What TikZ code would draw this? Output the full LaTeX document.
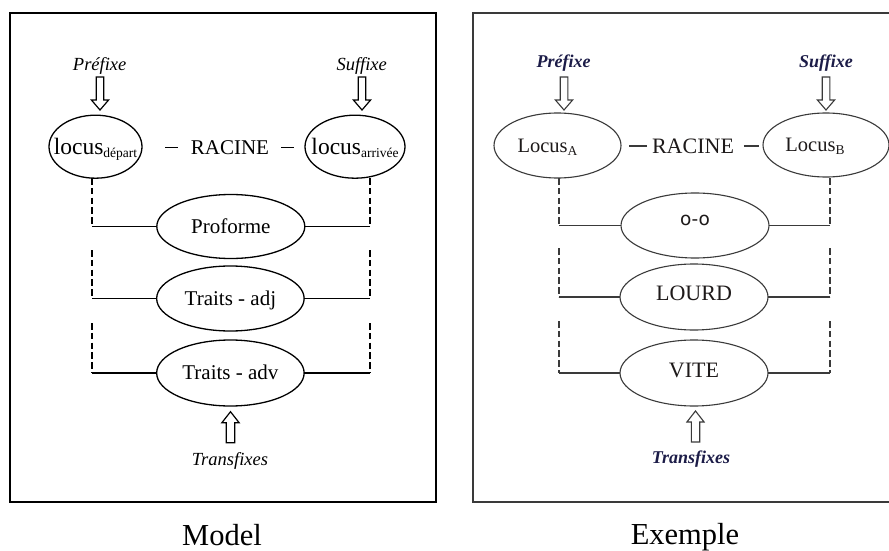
\documentclass[tikz,border=0pt]{standalone}
\usepackage{fontspec}
\setmainfont{Liberation Serif}
\newfontfamily\oofont{DejaVu Sans}
\usetikzlibrary{shapes.geometric}
\definecolor{navy}{HTML}{1C1C48}
\definecolor{exline}{HTML}{3A3A3A}
\definecolor{extext}{HTML}{1E1A1A}
\newcommand{\sub}[2]{\raisebox{-3pt}{\fontsize{#1}{#1}\selectfont #2}}
\begin{document}
\begin{tikzpicture}[x=1pt,y=-1pt,
  every node/.style={inner sep=0pt,outer sep=0pt},
  oval/.style={ellipse,draw,line width=1.3pt},
  exoval/.style={ellipse,draw=exline,line width=1.1pt},
  txt/.style={text height=13.9pt,text depth=0pt,font=\fontsize{21}{25}\selectfont},
  loctxt/.style={text height=15.5pt,text depth=0pt,font=\fontsize{23.5}{26}\selectfont},
  extxt/.style={text height=14.5pt,text depth=0pt,text=extext,font=\fontsize{22}{26}\selectfont},
  exloc/.style={text height=13.5pt,text depth=0pt,text=extext,font=\fontsize{20.5}{24}\selectfont},
  lbl/.style={text height=12.2pt,text depth=0pt,font=\fontsize{18.5}{22}\selectfont\itshape},
  exlbl/.style={text height=11.9pt,text depth=0pt,text=navy,font=\fontsize{18}{22}\selectfont\bfseries\itshape},
  captxt/.style={text height=20.2pt,text depth=0pt,font=\fontsize{30.5}{34}\selectfont},
  dashline/.style={line width=2pt,dash pattern=on 6.5pt off 3.3pt},
  solidline/.style={line width=1.7pt},
  exdash/.style={draw=exline,line width=1.9pt,dash pattern=on 6.5pt off 3.3pt},
  exsolid/.style={draw=exline,line width=1.5pt},
  arrowdown/.pic={\draw[pic actions] (-3.8,0) -- (3.8,0) -- (3.8,23) -- (8.6,23) -- (0,33) -- (-8.6,23) -- (-3.8,23) -- cycle;},
  arrowup/.pic={\draw[pic actions] (-4.2,0) -- (4.2,0) -- (4.2,-20) -- (8.6,-20) -- (0,-31) -- (-8.6,-20) -- (-4.2,-20) -- cycle;}
]
\clip (0,0) rectangle (889,551);
\fill[white] (0,0) rectangle (889,551);

% ===================== MODEL =====================
\draw[line width=2pt] (10,13.5) rectangle (436,502);

\node[lbl] (preM) at (99.7,64) {Préfixe};
\pic[draw,line width=1.2pt] at (100,77) {arrowdown};
\node[lbl] (sufM) at (361.7,64) {Suffixe};
\pic[draw,line width=1.2pt] at (362,77) {arrowdown};

\node[oval,minimum width=93,minimum height=63] (locD) at (95.5,146.7) {};
\node[loctxt] (tlocD) at (locD) {locus\sub{13.5}{départ}};
\node[oval,minimum width=100,minimum height=63] (locR) at (355,146.7) {};
\node[loctxt] (tlocR) at (locR) {locus\sub{13.5}{arrivée}};

\node[txt] (racM) at (230,147.5) {RACINE};
\draw[line width=1.8pt] ([xshift=-13pt]racM.west) -- ([xshift=-26pt]racM.west);
\draw[line width=1.8pt] ([xshift=12pt]racM.east) -- ([xshift=25pt]racM.east);

\node[oval,minimum width=148,minimum height=64] (proM) at (230.8,226.5) {};
\node[txt] (tproM) at (proM) {Proforme};
\node[oval,minimum width=147.5,minimum height=65] (adjM) at (230.4,298.5) {};
\node[txt] (tadjM) at (adjM) {Traits - adj};
\node[oval,minimum width=147.5,minimum height=66] (advM) at (230.4,373) {};
\node[txt] (tadvM) at (advM) {Traits - adv};

\coordinate (mL1a) at (92.3,178);   \coordinate (mL1b) at (92.3,226.5);
\coordinate (mR1a) at (370,178);    \coordinate (mR1b) at (370,226.5);
\coordinate (mL2a) at (92.3,250);   \coordinate (mL2b) at (92.3,298.5);
\coordinate (mR2a) at (370,250);    \coordinate (mR2b) at (370,298.5);
\coordinate (mL3a) at (92.3,323);   \coordinate (mL3b) at (92.3,373);
\coordinate (mR3a) at (370,323);    \coordinate (mR3b) at (370,373);
\draw[dashline] (mL1a) -- (mL1b); \draw[dashline] (mR1a) -- (mR1b);
\draw[dashline] (mL2a) -- (mL2b); \draw[dashline] (mR2a) -- (mR2b);
\draw[dashline] (mL3a) -- (mL3b); \draw[dashline] (mR3a) -- (mR3b);
\draw[solidline] (mL1b) -- (proM); \draw[solidline] (mR1b) -- (proM);
\draw[solidline] (mL2b) -- (adjM); \draw[solidline] (mR2b) -- (adjM);
\draw[solidline] (mL3b) -- (advM); \draw[solidline] (mR3b) -- (advM);

\pic[draw,line width=1.2pt] at (230.5,442.7) {arrowup};
\node[lbl] (trM) at (230,459) {Transfixes};

\node[captxt] (capM) at (222,535) {Model};

% ===================== EXEMPLE =====================
\draw[draw=exline,line width=2pt] (473,13) rectangle (900,502);

\node[exlbl] (preE) at (563.5,61.7) {Préfixe};
\pic[draw=exline,line width=1.1pt] at (564,77) {arrowdown};
\node[exlbl] (sufE) at (826,61.7) {Suffixe};
\pic[draw=exline,line width=1.1pt] at (826,77) {arrowdown};

\node[exoval,minimum width=127,minimum height=65] (locA) at (557.5,145.5) {};
\node[exloc] (tlocA) at ([xshift=-10pt]locA.center) {Locus\sub{13.5}{A}};
\node[exoval,minimum width=126,minimum height=64] (locB) at (826,145) {};
\node[exloc] (tlocB) at ([xshift=-11pt]locB.center) {Locus\sub{13.5}{B}};

\node[extxt] (racE) at (693,145.8) {RACINE};
\draw[exsolid,line width=1.6pt] ([xshift=-5pt]racE.west) -- ([xshift=-23pt]racE.west);
\draw[exsolid,line width=1.6pt] ([xshift=10pt]racE.east) -- ([xshift=25pt]racE.east);

\node[exoval,minimum width=148,minimum height=65] (oo) at (695,225.5) {};
\node[text=extext,text height=10pt,text depth=0pt,font=\fontsize{18.5}{22}\oofont] (too) at ([yshift=5pt]oo.center) {o-o};
\node[exoval,minimum width=148,minimum height=66] (lourd) at (694,297) {};
\node[extxt] (tlourd) at ([yshift=4pt]lourd.center) {LOURD};
\node[exoval,minimum width=148,minimum height=66] (vite) at (694,373) {};
\node[extxt] (tvite) at ([yshift=3pt]vite.center) {VITE};

\coordinate (eL1a) at (559,178);   \coordinate (eL1b) at (559,225.5);
\coordinate (eR1a) at (830,178);   \coordinate (eR1b) at (830,225.5);
\coordinate (eL2a) at (559,248);   \coordinate (eL2b) at (559,297);
\coordinate (eR2a) at (830,248);   \coordinate (eR2b) at (830,297);
\coordinate (eL3a) at (559,321);   \coordinate (eL3b) at (559,373);
\coordinate (eR3a) at (830,321);   \coordinate (eR3b) at (830,373);
\draw[exdash] (eL1a) -- (eL1b); \draw[exdash] (eR1a) -- (eR1b);
\draw[exdash] (eL2a) -- (eL2b); \draw[exdash] (eR2a) -- (eR2b);
\draw[exdash] (eL3a) -- (eL3b); \draw[exdash] (eR3a) -- (eR3b);
\draw[exsolid] (eL1b) -- (oo); \draw[exsolid] (eR1b) -- (oo);
\draw[exsolid] (eL2b) -- (lourd); \draw[exsolid] (eR2b) -- (lourd);
\draw[exsolid] (eL3b) -- (vite); \draw[exsolid] (eR3b) -- (vite);

\pic[draw=exline,line width=1.1pt] at (695.5,442) {arrowup};
\node[exlbl] (trE) at (691,458) {Transfixes};

\node[captxt] (capE) at (685,534.5) {Exemple};
\end{tikzpicture}
\end{document}
